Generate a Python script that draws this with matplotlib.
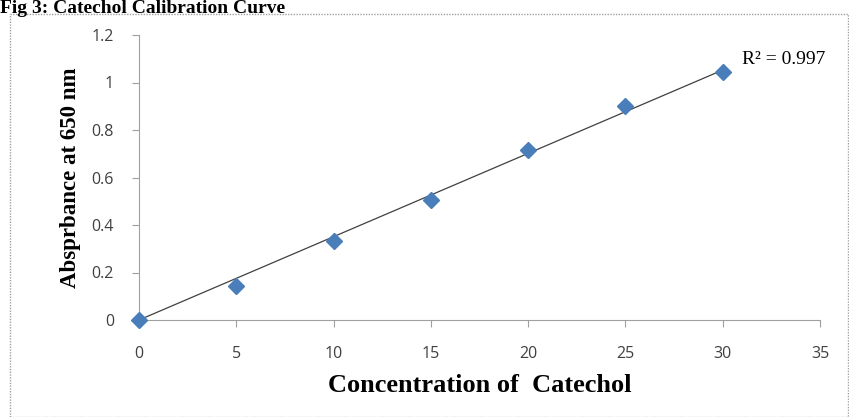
import numpy as np
import matplotlib.pyplot as plt
import matplotlib.patches as mpatches

# donnees
concentration = [0, 5, 10, 15, 20, 25, 30]
absorbance = [0.0, 0.143, 0.333, 0.505, 0.716, 0.902, 1.044]
r2_text = "R² = 0.997"
x_ticks = [0, 5, 10, 15, 20, 25, 30, 35]
y_ticks = [0, 0.2, 0.4, 0.6, 0.8, 1.0, 1.2]
y_tick_labels = ["0", "0.2", "0.4", "0.6", "0.8", "1", "1.2"]

fig = plt.figure(figsize=(8.49, 4.17), dpi=100)
ax = fig.add_axes([139/849, 1-320/417, (820-139)/849, (320-35)/417])

# cadre gris autour du graphique
frame = mpatches.Rectangle((10/849, 0.0), 838/849, 1-14/417, transform=fig.transFigure,
                           fill=False, edgecolor='#a0a0a0', linewidth=1, linestyle=(0, (1, 1)))
fig.patches.append(frame)

# titre en haut a gauche
fig.text(0.0, 1.0, "Fig 3: Catechol Calibration Curve", ha='left', va='top',
         family='Liberation Serif', fontweight='bold', fontsize=14)

x = np.array(concentration, dtype=float)
y = np.array(absorbance)
slope = np.sum(x * y) / np.sum(x * x)  # droite passant par l'origine
ax.plot([0, 30], [0, slope * 30], color='#404040', linewidth=0.9, zorder=2)
ax.plot(x, y, 'D', color='#4a7ebb', markersize=8, zorder=3, clip_on=False)

ax.set_xlim(0, 35)
ax.set_ylim(0, 1.2)
ax.set_xticks(x_ticks)
ax.set_yticks(y_ticks)
ax.set_yticklabels(y_tick_labels)
for s in ['top', 'right']:
    ax.spines[s].set_visible(False)
for s in ['left', 'bottom']:
    ax.spines[s].set_color('#a0a0a0')
ax.tick_params(colors='#a0a0a0', length=5, labelcolor='#404040', labelsize=11.5)
ax.tick_params(axis='x', pad=14)
ax.tick_params(axis='y', pad=13)
for lab in ax.get_xticklabels() + ax.get_yticklabels():
    lab.set_family('Open Sans')

ax.set_xlabel("Concentration of  Catechol", family='Liberation Serif', fontweight='bold',
              fontsize=19, labelpad=8)
ax.set_ylabel("Absprbance at 650 nm", family='Liberation Serif', fontweight='bold',
              fontsize=16.5, labelpad=8)

ax.text(742/849, 1-60/417, r2_text, transform=fig.transFigure, family='Liberation Serif',
        fontsize=14, ha='left', va='center')

fig.savefig('out.png', dpi=100)
